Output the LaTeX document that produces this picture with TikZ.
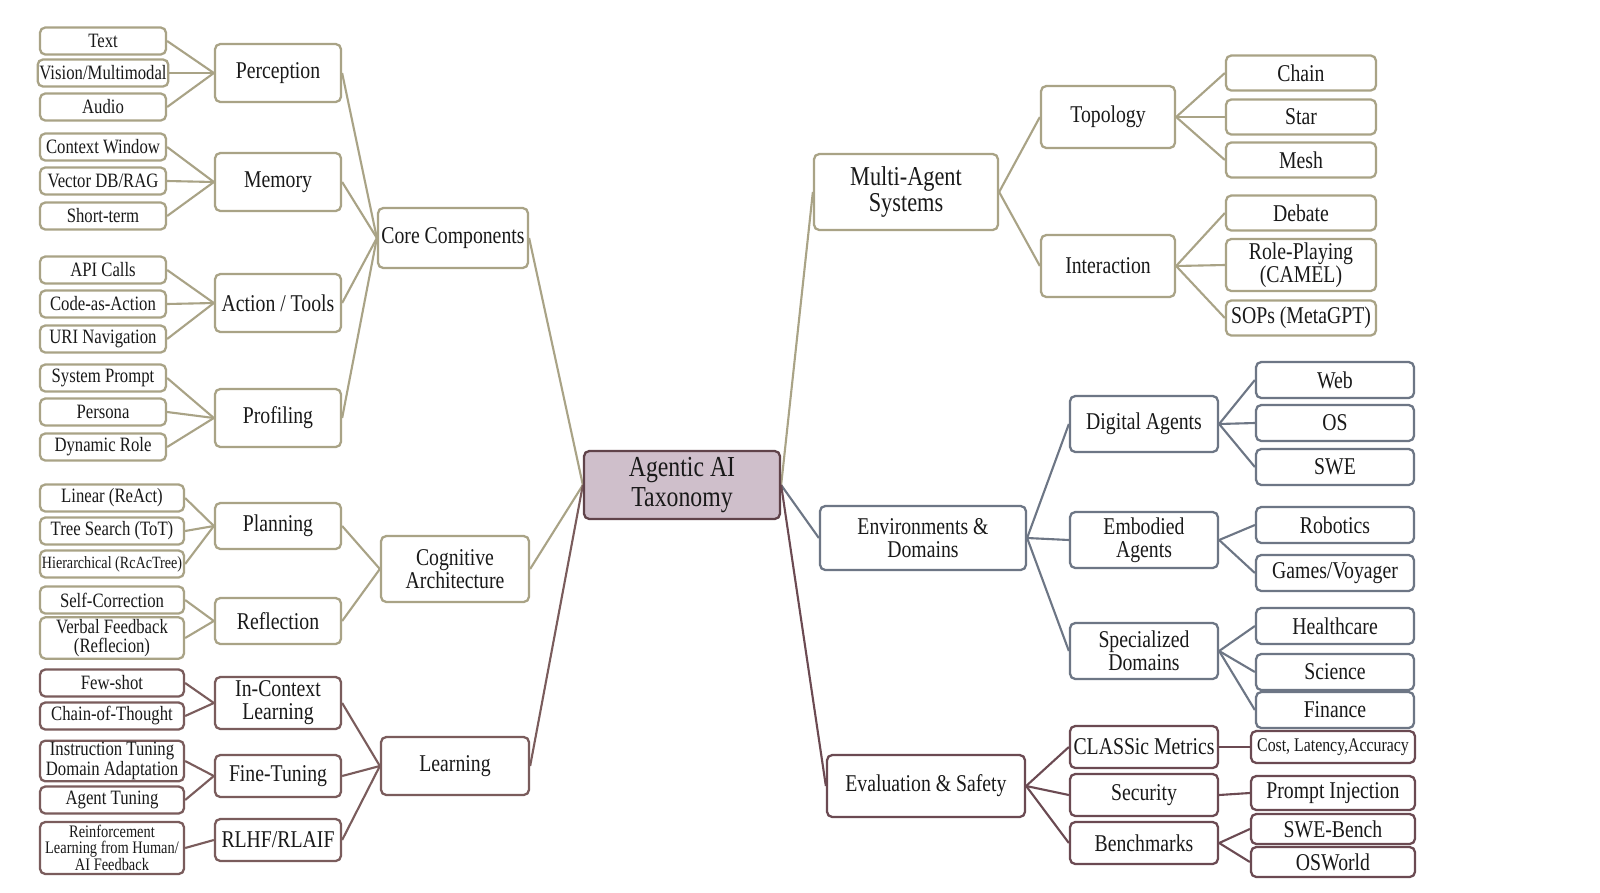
\documentclass[tikz,border=0pt]{standalone}
\usepackage{fontspec}
\setmainfont{Liberation Serif}[FakeStretch=0.82]
\pgfdeclarelayer{bg}
\pgfsetlayers{bg,main}
\begin{document}
\begin{tikzpicture}[x=0.02cm,y=-0.02cm,
  bx/.style={draw=#1, fill=white, rounded corners=3pt, line width=1.3pt, align=center, inner sep=1pt, text=black!90},
  ln/.style={draw=#1, line width=1.2pt},
  lf/.style={font=\fontsize{11.6}{11}\selectfont},
  md/.style={font=\fontsize{13.7}{13}\selectfont},
  tp/.style={font=\fontsize{15.5}{14.5}\selectfont},
  sz/.style 2 args={minimum width=#1*0.02cm, minimum height=#2*0.02cm}]
\definecolor{ol}{HTML}{A9A386}
\definecolor{lr}{HTML}{7A5C5C}
\definecolor{bl}{HTML}{6D7685}
\definecolor{ev}{HTML}{6B4A52}
\useasboundingbox (0,0) rectangle (1600,893);
% center
\node[bx=ev!90!black, fill={rgb,255:red,207;green,191;blue,203}, sz={196}{68}, font=\fontsize{16.5}{17}\selectfont] (c) at (682,485) {Agentic AI\\Taxonomy};
% left level1
\node[bx=ol, sz={150}{60}, md] (core) at (453,238) {Core Components};
\node[bx=ol, sz={148}{66}, md] (cog) at (455,569) {Cognitive\\Architecture};
\node[bx=lr, sz={148}{58}, md] (lea) at (455,766) {Learning};
% left level2
\node[bx=ol, sz={126}{58}, md] (per) at (278,73) {Perception};
\node[bx=ol, sz={126}{58}, md] (mem) at (278,182) {Memory};
\node[bx=ol, sz={126}{58}, md] (act) at (278,303) {Action / Tools};
\node[bx=ol, sz={126}{58}, md] (pro) at (278,418) {Profiling};
\node[bx=ol, sz={126}{46}, md] (pla) at (278,526) {Planning};
\node[bx=ol, sz={126}{46}, md] (ref) at (278,621) {Reflection};
\node[bx=lr, sz={126}{52}, md] (icl) at (278,703) {In-Context\\Learning};
\node[bx=lr, sz={126}{42}, md] (ft) at (278,776) {Fine-Tuning};
\node[bx=lr, sz={126}{42}, md] (rl) at (278,840) {RLHF/RLAIF};
% left leaves
\foreach \n/\t/\y in {a1/Text/41, a2/Vision\slash Multimodal/73, a3/Audio/107, b1/Context Window/147, b2/Vector DB\slash RAG/181, b3/Short-term/216, d1/API Calls/270, d2/Code-as-Action/304, d3/URI Navigation/339, e1/System Prompt/378, e2/Persona/412, e3/Dynamic Role/447}
  \node[bx=ol, sz={126}{27}, lf] (\n) at (103,\y) {\t};
\node[bx=ol, sz={144}{27}, lf] (f1) at (112,498) {Linear (ReAct)};
\node[bx=ol, sz={144}{27}, lf] (f2) at (112,531) {Tree Search (ToT)};
\node[bx=ol, sz={144}{27}, font=\fontsize{9.8}{10}\selectfont] (f3) at (112,564) {Hierarchical (RcAcTree)};
\node[bx=ol, sz={144}{27}, lf] (g1) at (112,600) {Self-Correction};
\node[bx=ol, sz={144}{40}, lf] (g2) at (112,638) {Verbal Feedback\\(Reflecion)};
\node[bx=lr, sz={144}{27}, lf] (h1) at (112,683) {Few-shot};
\node[bx=lr, sz={144}{27}, lf] (h2) at (112,716) {Chain-of-Thought};
\node[bx=lr, sz={144}{40}, lf] (i1) at (112,761) {Instruction Tuning\\Domain Adaptation};
\node[bx=lr, sz={144}{27}, lf] (i2) at (112,800) {Agent Tuning};
\node[bx=lr, sz={144}{52}, font=\fontsize{10}{9}\selectfont] (j1) at (112,848) {Reinforcement\\Learning from Human/\\AI Feedback};
% right level1
\node[bx=ol, sz={184}{76}, tp] (mas) at (906,192) {Multi-Agent\\Systems};
\node[bx=bl, sz={206}{64}, md] (env) at (923,538) {Environments \&\\Domains};
\node[bx=ev, sz={198}{62}, md] (eva) at (926,786) {Evaluation \& Safety};
% right level2
\node[bx=ol, sz={134}{62}, md] (top) at (1108,117) {Topology};
\node[bx=ol, sz={134}{62}, md] (int) at (1108,266) {Interaction};
\node[bx=bl, sz={148}{56}, md] (dig) at (1144,424) {Digital Agents};
\node[bx=bl, sz={148}{56}, md] (emb) at (1144,540) {Embodied\\Agents};
\node[bx=bl, sz={148}{56}, md] (spe) at (1144,651) {Specialized\\Domains};
\node[bx=ev, sz={148}{42}, md] (cla) at (1144,747) {CLASSic Metrics};
\node[bx=ev, sz={148}{42}, md] (sec) at (1144,795) {Security};
\node[bx=ev, sz={148}{42}, md] (ben) at (1144,843) {Benchmarks};
% right leaves
\node[bx=ol, sz={150}{35}, md] (k1) at (1301,73) {Chain};
\node[bx=ol, sz={150}{35}, md] (k2) at (1301,117) {Star};
\node[bx=ol, sz={150}{35}, md] (k3) at (1301,160) {Mesh};
\node[bx=ol, sz={150}{35}, md] (l1) at (1301,213) {Debate};
\node[bx=ol, sz={150}{52}, md] (l2) at (1301,265) {Role-Playing\\(CAMEL)};
\node[bx=ol, sz={150}{35}, md] (l3) at (1301,318) {SOPs (MetaGPT)};
\node[bx=bl, sz={158}{36}, md] (m1) at (1335,380) {Web};
\node[bx=bl, sz={158}{36}, md] (m2) at (1335,423) {OS};
\node[bx=bl, sz={158}{36}, md] (m3) at (1335,467) {SWE};
\node[bx=bl, sz={158}{36}, md] (n1) at (1335,525) {Robotics};
\node[bx=bl, sz={158}{36}, md] (n2) at (1335,573) {Games/Voyager};
\node[bx=bl, sz={158}{36}, md] (o1) at (1335,626) {Healthcare};
\node[bx=bl, sz={158}{36}, md] (o2) at (1335,672) {Science};
\node[bx=bl, sz={158}{36}, md] (o3) at (1335,710) {Finance};
\node[bx=ev, sz={164}{32}, font=\fontsize{11}{10}\selectfont] (p1) at (1333,747) {Cost, Latency,Accuracy};
\node[bx=ev, sz={164}{34}, md] (p2) at (1333,793) {Prompt Injection};
\node[bx=ev, sz={164}{30}, md] (p3) at (1333,829) {SWE-Bench};
\node[bx=ev, sz={164}{30}, md] (p4) at (1333,862) {OSWorld};
% edges
\begin{pgfonlayer}{bg}
\fill[white] (0,0) rectangle (1600,893);
\foreach \a/\b/\k in {c/core/ol, c/cog/ol, c/lea/lr,
  core/per/ol, core/mem/ol, core/act/ol, core/pro/ol,
  cog/pla/ol, cog/ref/ol, lea/icl/lr, lea/ft/lr, lea/rl/lr,
  per/a1/ol, per/a2/ol, per/a3/ol, mem/b1/ol, mem/b2/ol, mem/b3/ol,
  act/d1/ol, act/d2/ol, act/d3/ol, pro/e1/ol, pro/e2/ol, pro/e3/ol,
  pla/f1/ol, pla/f2/ol, pla/f3/ol, ref/g1/ol, ref/g2/ol,
  icl/h1/lr, icl/h2/lr, ft/i1/lr, ft/i2/lr, rl/j1/lr}
  \draw[ln=\k] (\a.west) -- (\b.east);
\foreach \a/\b/\k in {c/mas/ol, c/env/bl, c/eva/ev,
  mas/top/ol, mas/int/ol, env/dig/bl, env/emb/bl, env/spe/bl,
  eva/cla/ev, eva/sec/ev, eva/ben/ev,
  top/k1/ol, top/k2/ol, top/k3/ol, int/l1/ol, int/l2/ol, int/l3/ol,
  dig/m1/bl, dig/m2/bl, dig/m3/bl, emb/n1/bl, emb/n2/bl,
  spe/o1/bl, spe/o2/bl, spe/o3/bl,
  cla/p1/ev, sec/p2/ev, ben/p3/ev, ben/p4/ev}
  \draw[ln=\k] (\a.east) -- (\b.west);
\end{pgfonlayer}
\end{tikzpicture}
\end{document}
